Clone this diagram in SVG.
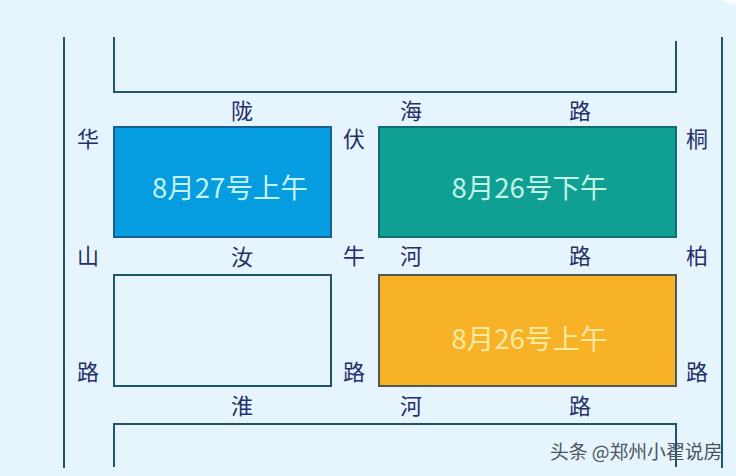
<svg xmlns="http://www.w3.org/2000/svg" width="736" height="476" viewBox="0 0 736 476">
<style>
.l{fill:none;stroke:#1f5566;stroke-width:2}
.b{stroke-width:2}
.r{font:22px "Noto Sans CJK SC","Noto Sans",sans-serif;fill:#252f68;text-anchor:middle}
.t{font:27.5px "Noto Sans CJK SC","Noto Sans",sans-serif;text-anchor:middle}
</style>
<rect width="736" height="476" fill="#e6f5fd"/>
<path d="M722 0H736V5Q728 4 722 0Z" fill="#fafdff"/>
<g id="connectors">
<path class="l" d="M64 37V468"/>
<path class="l" d="M722 37V468"/>
<path class="l" d="M114 37V92H676V41"/>
<path class="l" d="M114 467V424H676V467"/>
</g>
<g id="block-827am"><rect class="b" x="114" y="127" width="217" height="110" fill="#069ce0" stroke="#17608f"/><text class="t" x="230" y="198" fill="#c4f3f2">8月27号上午</text></g>
<g id="block-826pm"><rect class="b" x="379" y="127" width="297" height="110" fill="#0fa093" stroke="#136b73"/><text class="t" x="529.5" y="198" fill="#c4f3e8">8月26号下午</text></g>
<g id="block-empty"><rect class="b" x="114" y="275" width="217" height="111" fill="none" stroke="#1f5566"/></g>
<g id="block-826am"><rect class="b" x="379" y="275" width="297" height="111" fill="#f8b228" stroke="#4f5a50"/><text class="t" x="529.5" y="349" fill="#fbeaa0">8月26号上午</text></g>
<g id="labels">
<text class="r" x="242" y="119">陇</text><text class="r" x="411" y="119">海</text><text class="r" x="580" y="119">路</text>
<text class="r" x="88" y="147">华</text><text class="r" x="354" y="147">伏</text><text class="r" x="697" y="147">桐</text>
<text class="r" x="88" y="264">山</text><text class="r" x="242" y="265">汝</text><text class="r" x="354" y="264">牛</text><text class="r" x="411" y="264">河</text><text class="r" x="580" y="264">路</text><text class="r" x="697" y="264">柏</text>
<text class="r" x="88" y="380">路</text><text class="r" x="354" y="380">路</text><text class="r" x="697" y="380">路</text>
<text class="r" x="242" y="414">淮</text><text class="r" x="411" y="414">河</text><text class="r" x="580" y="414">路</text>
</g>
<text id="watermark" x="550" y="459" font-family="'Noto Sans CJK SC',sans-serif" font-size="18.8" fill="#4a5560">头条 @郑州小翟说房</text>
</svg>
